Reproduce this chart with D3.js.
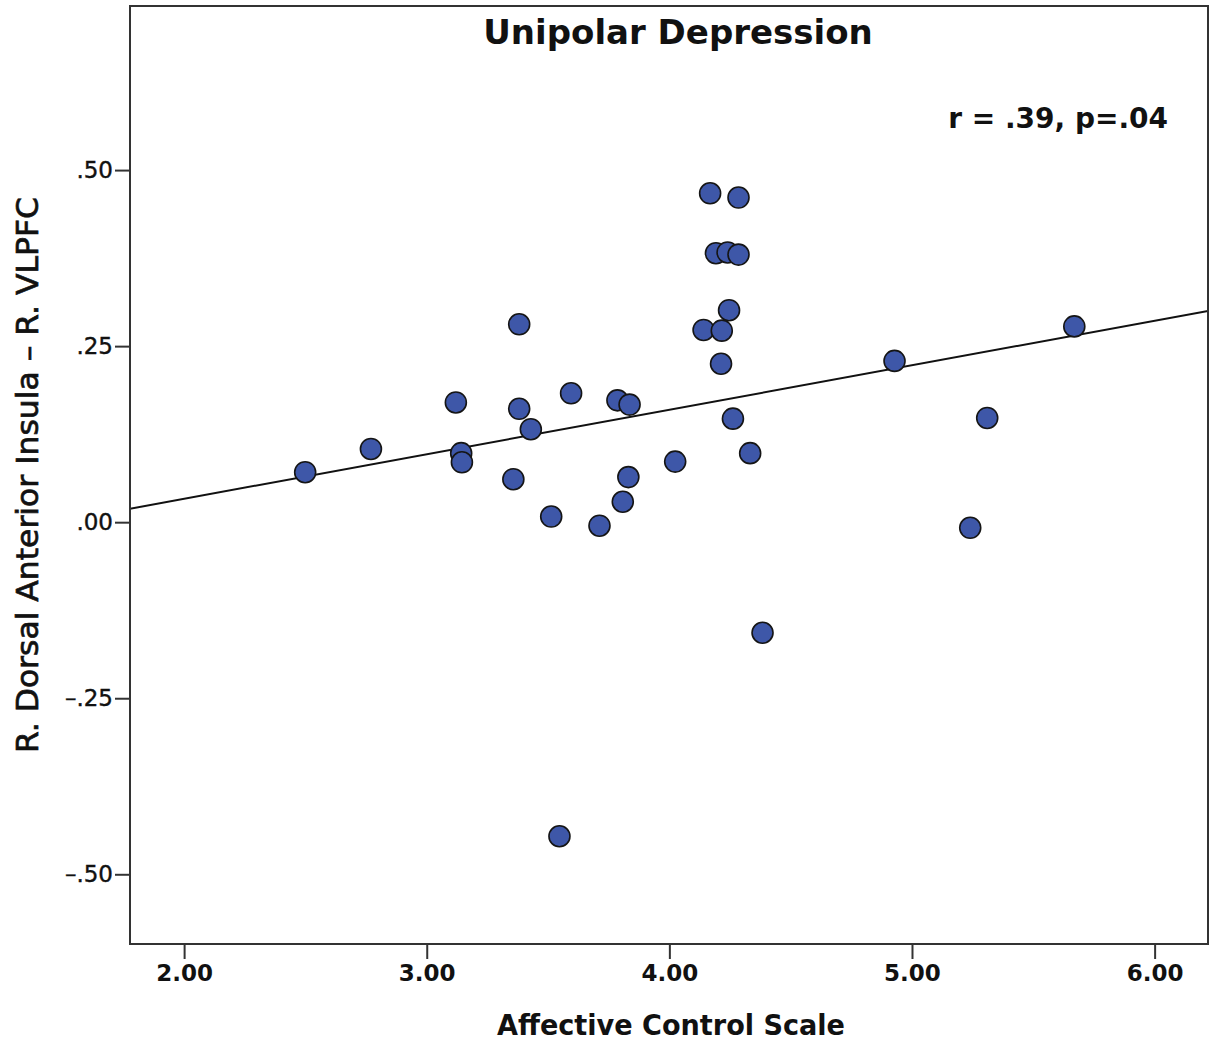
<!DOCTYPE html>
<html>
<head>
<meta charset="utf-8">
<script src="https://cdn.jsdelivr.net/npm/d3@7"></script>
<style>
  body { margin: 0; background: #fff; }
  text { font-family: "DejaVu Sans", sans-serif; fill: #111; }
</style>
</head>
<body>
<div id="chart-area"></div>
<script>
// Affective Control Scale scores
const acs = [
  2.499, 2.770, 3.120, 3.381, 3.142, 3.145, 3.381, 3.429, 3.595, 3.786,
  3.836, 3.357, 3.513, 3.712, 3.808, 3.831, 4.024, 4.168, 4.285, 4.192,
  4.240, 4.285, 4.246, 4.141, 4.216, 4.213, 4.262, 4.333, 4.928, 5.669,
  5.310, 5.240, 4.384, 3.547
];
// R. dorsal anterior insula - R. VLPFC connectivity
const conn = [
  0.071, 0.104, 0.170, 0.281, 0.098, 0.085, 0.161, 0.132, 0.183, 0.173,
  0.167, 0.061, 0.008, -0.005, 0.029, 0.064, 0.086, 0.467, 0.461, 0.382,
  0.383, 0.380, 0.301, 0.273, 0.272, 0.225, 0.147, 0.098, 0.229, 0.278,
  0.148, -0.008, -0.157, -0.446
];
const xTicks = [2, 3, 4, 5, 6];
const yTicks = [-0.5, -0.25, 0, 0.25, 0.5];

const margin = { top: 6, right: 6, bottom: 103, left: 130 };
const width = 1214 - margin.left - margin.right;
const height = 1047 - margin.top - margin.bottom;

const svg = d3.select("#chart-area")
  .append("svg")
    .attr("width", 1214)
    .attr("height", 1047);

const g = svg.append("g")
  .attr("transform", `translate(${margin.left}, ${margin.top})`);

const x = d3.scaleLinear()
  .domain([1.777, 6.22])
  .range([0, width]);

const y = d3.scaleLinear()
  .domain([-0.599, 0.733])
  .range([height, 0]);

const data = acs.map((v, i) => ({ x: v, y: conn[i] }));

// least squares fit line
const mx = d3.mean(data, d => d.x);
const my = d3.mean(data, d => d.y);
const slope = d3.sum(data, d => (d.x - mx) * (d.y - my)) / d3.sum(data, d => (d.x - mx) ** 2);
const intercept = my - slope * mx;

g.append("clipPath")
  .attr("id", "plot-clip")
  .append("rect")
    .attr("width", width)
    .attr("height", height);

const fit = x.domain().map(v => ({ x: v, y: intercept + slope * v }));
g.append("path")
  .datum(fit)
  .attr("clip-path", "url(#plot-clip)")
  .attr("fill", "none")
  .attr("stroke", "#111")
  .attr("stroke-width", 2)
  .attr("d", d3.line().x(d => x(d.x)).y(d => y(d.y)));

g.selectAll("circle")
  .data(data)
  .enter()
  .append("circle")
    .attr("cx", d => x(d.x))
    .attr("cy", d => y(d.y))
    .attr("r", 10.5)
    .attr("fill", "#3e57a8")
    .attr("stroke", "#151515")
    .attr("stroke-width", 1.6);

// frame
g.append("rect")
  .attr("width", width)
  .attr("height", height)
  .attr("fill", "none")
  .attr("stroke", "#333")
  .attr("stroke-width", 2);

const yFormat = v => (v < 0 ? "\u2013" : "") + d3.format(".2f")(Math.abs(v)).replace(/^0/, "");

const xAxisGroup = g.append("g")
  .attr("transform", `translate(0, ${height})`)
  .call(d3.axisBottom(x).tickValues(xTicks).tickFormat(d3.format(".2f")).tickSize(15).tickPadding(6));

const yAxisGroup = g.append("g")
  .call(d3.axisLeft(y).tickValues(yTicks).tickFormat(yFormat).tickSize(15).tickPadding(2));

[xAxisGroup, yAxisGroup].forEach(ax => {
  ax.select(".domain").remove();
  ax.selectAll("line").attr("stroke", "#333").attr("stroke-width", 2);
  ax.selectAll("text").attr("fill", "#111").attr("font-family", "DejaVu Sans");
});
xAxisGroup.selectAll("text").attr("font-size", "23px").attr("font-weight", "bold");
yAxisGroup.selectAll("text")
  .attr("font-size", "23px")
  .attr("stroke", "#111")
  .attr("stroke-width", 0.4);

svg.append("text")
  .attr("x", 678)
  .attr("y", 44)
  .attr("text-anchor", "middle")
  .attr("font-size", "34px")
  .attr("font-weight", "bold")
  .text("Unipolar Depression");

svg.append("text")
  .attr("x", 1168)
  .attr("y", 128)
  .attr("text-anchor", "end")
  .attr("font-size", "28px")
  .attr("font-weight", "bold")
  .text("r = .39, p=.04");

svg.append("text")
  .attr("x", 671)
  .attr("y", 1035)
  .attr("text-anchor", "middle")
  .attr("font-size", "29px")
  .attr("font-weight", "bold")
  .attr("textLength", 348)
  .attr("lengthAdjust", "spacingAndGlyphs")
  .text("Affective Control Scale");

svg.append("text")
  .attr("transform", "translate(38, 475) rotate(-90)")
  .attr("text-anchor", "middle")
  .attr("font-size", "30px")
  .attr("stroke", "#111")
  .attr("stroke-width", 0.7)
  .attr("textLength", 556)
  .attr("lengthAdjust", "spacingAndGlyphs")
  .text("R. Dorsal Anterior Insula \u2013 R. VLPFC");
</script>
</body>
</html>
